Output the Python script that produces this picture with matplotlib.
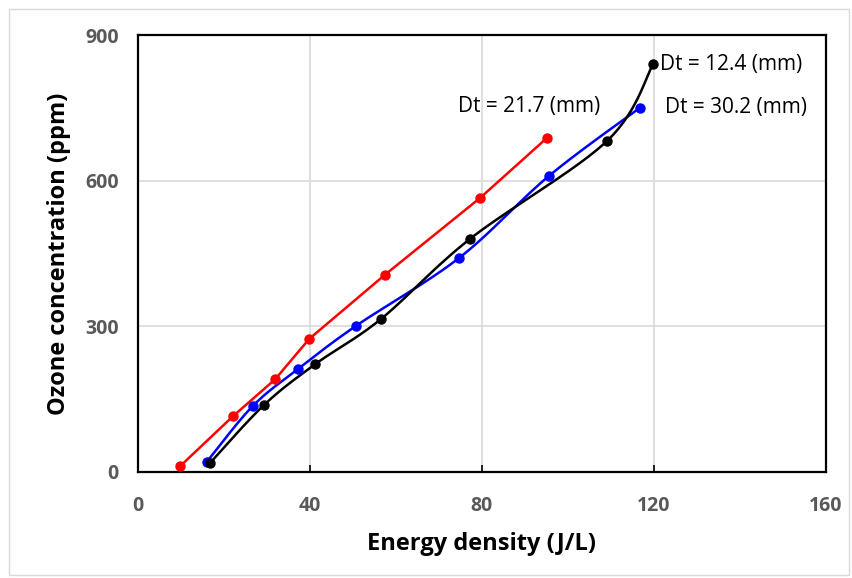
import numpy as np
import matplotlib
matplotlib.use("Agg")
import matplotlib.pyplot as plt
from matplotlib.patches import Rectangle

plt.rcParams['font.family'] = ['Open Sans', 'DejaVu Sans']

# data
red_x = [9.8, 22.1, 31.9, 39.8, 57.4, 79.5, 95.1]
red_y = [12, 115, 191, 274, 406, 564, 688]
blue_x = [16.0, 26.7, 37.2, 50.7, 74.7, 95.6, 116.7]
blue_y = [21, 136, 212, 301, 441, 610, 750]
black_x = [16.7, 29.3, 41.2, 56.5, 77.2, 109.1, 119.8]
black_y = [18, 138, 222, 315, 480, 682, 840]

x_ticks = [0, 40, 80, 120, 160]
y_ticks = [0, 300, 600, 900]


def smooth(xs, ys, n=30):
    # Catmull-Rom curve through the points (like Excel's smoothed line)
    p = np.column_stack([xs, ys]).astype(float)
    p = np.vstack([p[0], p, p[-1]])
    out = []
    for i in range(1, len(p) - 2):
        p0, p1, p2, p3 = p[i - 1], p[i], p[i + 1], p[i + 2]
        t = np.linspace(0, 1, n)[:, None]
        seg = 0.5 * ((2 * p1) + (-p0 + p2) * t + (2 * p0 - 5 * p1 + 4 * p2 - p3) * t ** 2
                     + (-p0 + 3 * p1 - 3 * p2 + p3) * t ** 3)
        out.append(seg)
    out = np.vstack(out)
    return out[:, 0], out[:, 1]


fig = plt.figure(figsize=(8.53, 5.78), dpi=100)
ax = fig.add_axes([0.1618, 0.1834, 0.8065, 0.756])

for xs, ys, c, smoothed in [(red_x, red_y, 'red', False), (blue_x, blue_y, 'blue', True),
                            (black_x, black_y, 'black', True)]:
    sx, sy = smooth(xs, ys) if smoothed else (xs, ys)
    ax.plot(sx, sy, color=c, lw=1.8, zorder=3)
    ax.plot(xs, ys, 'o', color=c, ms=6.5, zorder=4)

ax.set_xlim(0, 160)
ax.set_ylim(0, 900)
ax.set_xticks(x_ticks)
ax.set_yticks(y_ticks)
ax.set_xticklabels([str(v) for v in x_ticks])
ax.set_yticklabels([str(v) for v in y_ticks])
ax.grid(True, color='#d9d9d9', lw=1.2)
ax.set_axisbelow(True)
for s in ax.spines.values():
    s.set_linewidth(1.6)
ax.tick_params(axis='x', direction='in', length=5, width=1.2, pad=17,
               labelsize=14, labelcolor='#595959')
ax.tick_params(axis='y', direction='in', length=0, pad=14,
               labelsize=14, labelcolor='#595959')
for lab in ax.get_xticklabels() + ax.get_yticklabels():
    lab.set_fontweight('bold')

ax.set_xlabel('Energy density (J/L)', fontsize=17, fontweight='bold', labelpad=12)
ax.set_ylabel('Ozone concentration (ppm)', fontsize=17, fontweight='bold', labelpad=10)

ax.text(121.5, 840, 'Dt = 12.4 (mm)', fontsize=15, va='center', ha='left')
ax.text(122.5, 750, 'Dt = 30.2 (mm)', fontsize=15, va='center', ha='left')
ax.text(74.5, 752, 'Dt = 21.7 (mm)', fontsize=15, va='center', ha='left')

fig.patches.append(Rectangle((0.01, 0.005), 0.985, 0.98, transform=fig.transFigure,
                             fill=False, edgecolor='#d9d9d9', lw=1))

fig.savefig('out.png', dpi=100)
